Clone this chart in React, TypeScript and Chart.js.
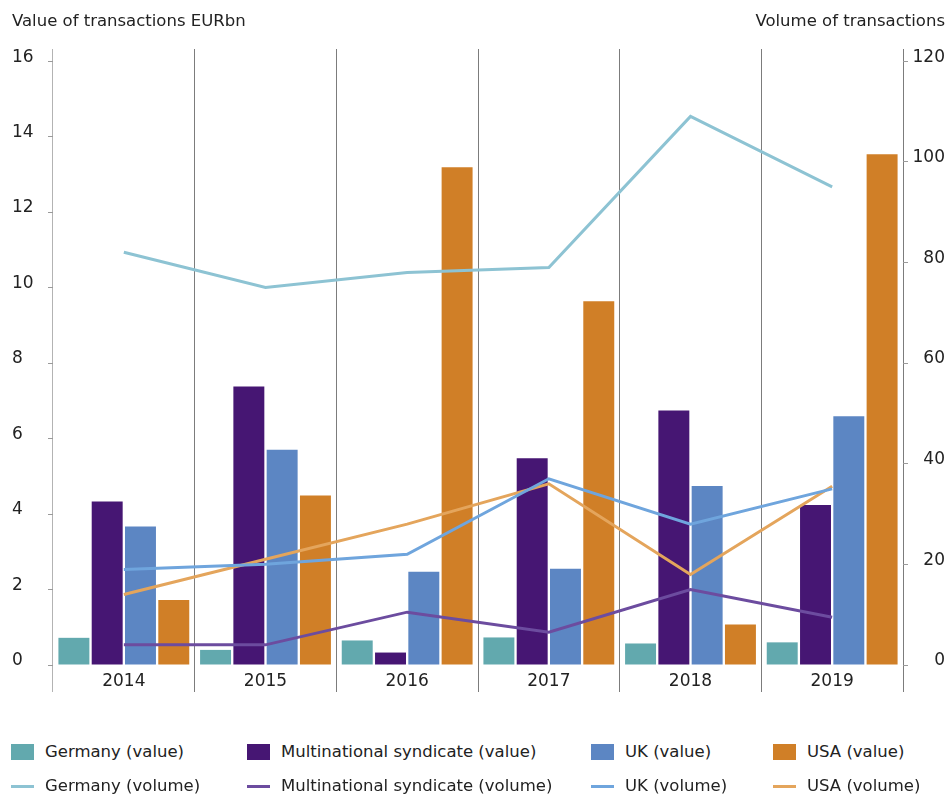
import React, { useEffect, useRef } from "react";
import { Chart, registerables } from "chart.js";

Chart.register(...registerables);

// Categories
const years = ["2014", "2015", "2016", "2017", "2018", "2019"];

// Value of transactions, EURbn (left axis)
const germanyValue = [0.72, 0.4, 0.65, 0.73, 0.57, 0.6];
const syndicateValue = [4.33, 7.38, 0.33, 5.48, 6.74, 4.24];
const ukValue = [3.67, 5.7, 2.47, 2.55, 4.74, 6.59];
const usaValue = [1.72, 4.49, 13.19, 9.64, 1.07, 13.53];

// Volume of transactions (right axis)
const germanyVolume = [82, 75, 78, 79, 109, 95];
const syndicateVolume = [4, 4, 10.5, 6.5, 15, 9.5];
const ukVolume = [19, 20, 22, 37, 28, 35];
const usaVolume = [14, 21, 28, 36, 18, 35.5];

// Axis ticks and titles
const valueTicks = [0, 2, 4, 6, 8, 10, 12, 14, 16];
const volumeTicks = [0, 20, 40, 60, 80, 100, 120];
const leftTitle = "Value of transactions EURbn";
const rightTitle = "Volume of transactions";

const FONT = '"DejaVu Sans", sans-serif';
const TEXT = "#222222";

const colors = {
  germanyValue: "#62a9ae",
  syndicateValue: "#461673",
  ukValue: "#5c86c3",
  usaValue: "#d07f27",
  germanyVolume: "#8dc3d3",
  syndicateVolume: "#6c4c9f",
  ukVolume: "#6fa5dd",
  usaVolume: "#e4a55c",
};

type LegendItem = { label: string; color: string; kind: "box" | "line" };

const legendRows: LegendItem[][] = [
  [
    { label: "Germany (value)", color: colors.germanyValue, kind: "box" },
    { label: "Multinational syndicate (value)", color: colors.syndicateValue, kind: "box" },
    { label: "UK (value)", color: colors.ukValue, kind: "box" },
    { label: "USA (value)", color: colors.usaValue, kind: "box" },
  ],
  [
    { label: "Germany (volume)", color: colors.germanyVolume, kind: "line" },
    { label: "Multinational syndicate (volume)", color: colors.syndicateVolume, kind: "line" },
    { label: "UK (volume)", color: colors.ukVolume, kind: "line" },
    { label: "USA (volume)", color: colors.usaVolume, kind: "line" },
  ],
];
const legendColumns = [11, 247, 591, 773];
const legendRowY = [752, 786];

const VALUE_MAX = 16.32;
const VOLUME_MAX = (120 * VALUE_MAX) / 16;

const titlesPlugin = {
  id: "axisTitles",
  afterDraw(chart: any) {
    const ctx = chart.ctx;
    ctx.save();
    ctx.font = `16.5px ${FONT}`;
    ctx.fillStyle = TEXT;
    ctx.textBaseline = "alphabetic";
    ctx.textAlign = "left";
    ctx.fillText(leftTitle, 12, 26);
    ctx.textAlign = "right";
    ctx.fillText(rightTitle, 945, 26);
    ctx.restore();
  },
};

export default function App() {
  const canvasRef = useRef<HTMLCanvasElement | null>(null);

  useEffect(() => {
    if (!canvasRef.current) return;
    const bar = (label: string, data: number[], color: string) => ({
      type: "bar" as const,
      label,
      data,
      backgroundColor: color,
      borderWidth: 0,
      yAxisID: "y",
      order: 2,
      categoryPercentage: 0.94,
      barPercentage: 0.93,
    });
    const line = (label: string, data: number[], color: string) => ({
      type: "line" as const,
      label,
      data,
      borderColor: color,
      backgroundColor: color,
      borderWidth: 3,
      pointRadius: 0,
      tension: 0,
      yAxisID: "y1",
      order: 1,
    });

    const chart = new Chart(canvasRef.current, {
      type: "bar",
      data: {
        labels: years,
        datasets: [
          bar("Germany (value)", germanyValue, colors.germanyValue),
          bar("Multinational syndicate (value)", syndicateValue, colors.syndicateValue),
          bar("UK (value)", ukValue, colors.ukValue),
          bar("USA (value)", usaValue, colors.usaValue),
          line("Germany (volume)", germanyVolume, colors.germanyVolume),
          line("Multinational syndicate (volume)", syndicateVolume, colors.syndicateVolume),
          line("UK (volume)", ukVolume, colors.ukVolume),
          line("USA (volume)", usaVolume, colors.usaVolume),
        ] as any,
      },
      options: {
        animation: false,
        responsive: false,
        maintainAspectRatio: false,
        layout: { padding: { left: 12, right: 2, top: 49, bottom: 0 } },
        plugins: {
          legend: { display: false },
          tooltip: { enabled: false },
        },
        scales: {
          x: {
            grid: {
              offset: true,
              drawOnChartArea: true,
              drawTicks: true,
              tickLength: 27,
              lineWidth: 1,
              color: (c: any) => (c.index === 0 ? "#b3b3b3" : "#7c7c7c"),
            },
            border: { display: false },
            ticks: {
              color: TEXT,
              font: { family: FONT, size: 17 },
              padding: -21,
              maxRotation: 0,
            },
            afterFit: (s: any) => {
              s.height = 35;
            },
          },
          y: {
            position: "left",
            min: 0,
            max: VALUE_MAX,
            afterBuildTicks: (s: any) => {
              s.ticks = valueTicks.map((v) => ({ value: v }));
            },
            grid: {
              drawOnChartArea: false,
              drawTicks: true,
              tickLength: 5,
              color: "#9a9a9a",
            },
            border: { display: false },
            ticks: {
              color: TEXT,
              font: { family: FONT, size: 17 },
              crossAlign: "far",
              labelOffset: -4,
              includeBounds: false,
            },
            afterFit: (s: any) => {
              s.width = 41;
            },
          },
          y1: {
            position: "right",
            min: 0,
            max: VOLUME_MAX,
            afterBuildTicks: (s: any) => {
              s.ticks = volumeTicks.map((v) => ({ value: v }));
            },
            grid: {
              drawOnChartArea: false,
              drawTicks: true,
              tickLength: 5,
              color: "#9a9a9a",
            },
            border: { display: false },
            ticks: {
              color: TEXT,
              font: { family: FONT, size: 17 },
              crossAlign: "far",
              labelOffset: -4,
              includeBounds: false,
            },
            afterFit: (s: any) => {
              s.width = 42;
            },
          },
        },
      } as any,
      plugins: [titlesPlugin],
    });
    return () => chart.destroy();
  }, []);

  return (
    <div
      style={{
        position: "fixed",
        left: 0,
        top: 0,
        width: 947,
        height: 795,
        background: "#ffffff",
        fontFamily: FONT,
        color: TEXT,
      }}
    >
      <canvas
        ref={canvasRef}
        width={947}
        height={700}
        style={{ position: "absolute", left: 0, top: 0, width: 947, height: 700 }}
      />
      {legendRows.map((row, r) =>
        row.map((item, c) => (
          <div
            key={item.label}
            style={{
              position: "absolute",
              left: legendColumns[c],
              top: legendRowY[r] - 12,
              height: 24,
              display: "flex",
              alignItems: "center",
              whiteSpace: "nowrap",
              fontSize: 16.5,
              lineHeight: "24px",
            }}
          >
            <span
              style={{
                display: "inline-block",
                width: 23,
                height: item.kind === "box" ? 16 : 3,
                background: item.color,
                marginRight: 11,
              }}
            />
            <span>{item.label}</span>
          </div>
        ))
      )}
    </div>
  );
}
